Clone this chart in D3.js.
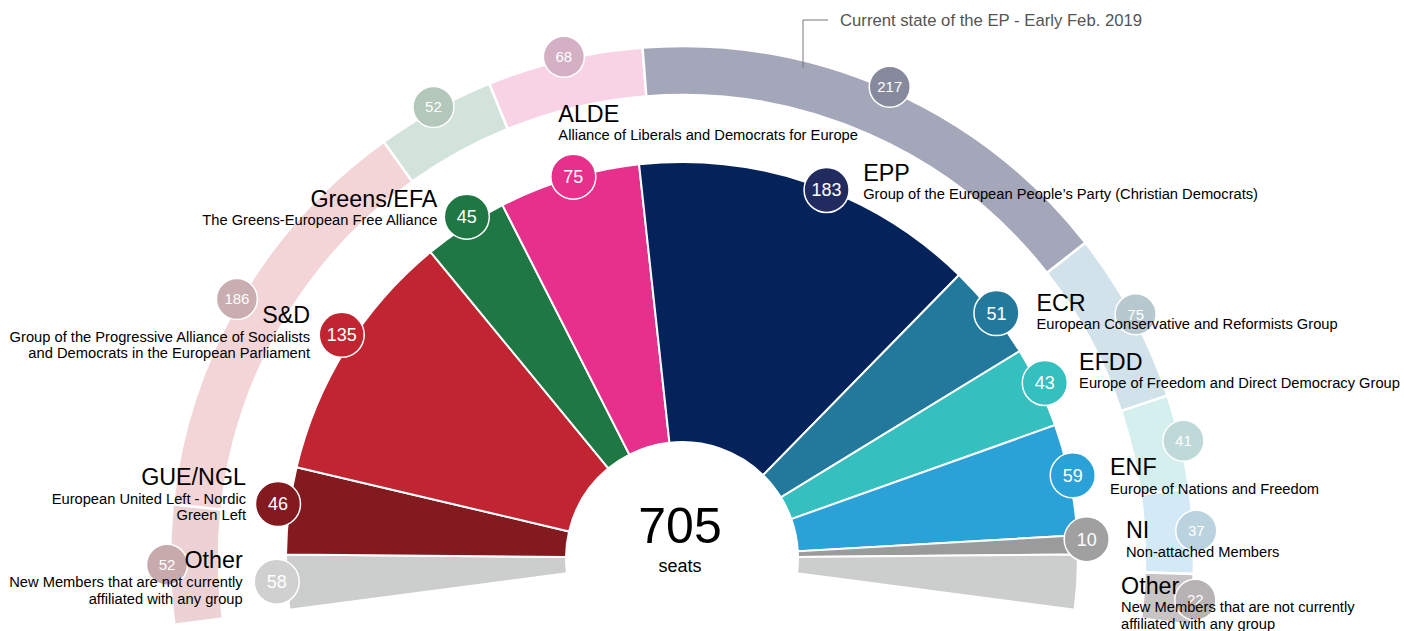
<!DOCTYPE html>
<html>
<head>
<meta charset="utf-8">
<script src="https://cdn.jsdelivr.net/npm/d3@7"></script>
<style>
  body { margin: 0; background: #fff; }
  svg { display: block; font-family: Arial, "Liberation Sans", Helvetica, sans-serif; }
</style>
</head>
<body>
<svg id="chart" width="1404" height="631"></svg>
<script>
// projected seats (inner half donut) and current seats (outer ring)
const groups = ['GUE/NGL', 'S&D', 'Greens/EFA', 'ALDE', 'EPP', 'ECR', 'EFDD', 'ENF', 'NI'];
const projectedSeats = [46, 135, 45, 75, 183, 51, 43, 59, 10];
const currentSeats = [52, 186, 52, 68, 217, 75, 41, 37, 22];
const otherSeats = 58;
const totalSeats = 705;
const descriptions = [
  ['European United Left - Nordic', 'Green Left'],
  ['Group of the Progressive Alliance of Socialists', 'and Democrats in the European Parliament'],
  ['The Greens-European Free Alliance'],
  ['Alliance of Liberals and Democrats for Europe'],
  ['Group of the European People\u2019s Party (Christian Democrats)'],
  ['European Conservative and Reformists Group'],
  ['Europe of Freedom and Direct Democracy Group'],
  ['Europe of Nations and Freedom'],
  ['Non-attached Members']
];
const otherLabel = 'Other';
const otherDesc = ['New Members that are not currently', 'affiliated with any group'];
const ringTitle = 'Current state of the EP - Early Feb. 2019';

const mainColors = ['#831a1f', '#c12532', '#1f7843', '#e72f8c', '#04235b', '#22799b', '#35bfbe', '#2aa1d7', '#9b9b9b'];
const badgeColors = ['#831a1f', '#c12532', '#1f7843', '#e72f8c', '#222b5f', '#22799b', '#35bfbe', '#2aa1d7', '#a0a0a0'];
const otherColor = '#cccdcd', otherBadge = '#d0d0d0';
const ringColors = ['#ecd2d5', '#f3d4d7', '#d1e3da', '#f8d3e6', '#a4a7b9', '#d2e2ea', '#d5efef', '#d3e9f5', '#c8c4c5'];
const ringBadges = ['#c8aaad', '#c9adb0', '#b4c7bb', '#d3b0c3', '#878a9c', '#b8c8cf', '#bfd9d9', '#bbd3df', '#b7b3b4'];

const cx = 682, cy = 558;
const overhang = 7.5 * Math.PI / 180;
const rad = Math.PI / 180;
const svg = d3.select('#chart');
const g = svg.append('g');

const polar = (a, r) => [cx + r * Math.sin(a), cy - r * Math.cos(a)];
const mid = d => (d.startAngle + d.endAngle) / 2;

// inner items: Other split half on each end
const inner = [{ name: otherLabel, seats: otherSeats / 2, color: otherColor, badge: otherBadge, desc: otherDesc, shown: otherSeats }]
  .concat(groups.map((n, i) => ({ name: n, seats: projectedSeats[i], color: mainColors[i], badge: badgeColors[i], desc: descriptions[i], shown: projectedSeats[i] })))
  .concat([{ name: otherLabel, seats: otherSeats / 2, color: otherColor, badge: null, desc: otherDesc, shown: null }]);

const pie = d3.pie().sort(null).value(d => d.seats)
  .startAngle(-Math.PI / 2 - overhang).endAngle(Math.PI / 2 + overhang);

const outer = groups.map((n, i) => ({ name: n, seats: currentSeats[i], color: ringColors[i], badge: ringBadges[i] }));

// outer ring
const ringArc = d3.arc().innerRadius(463).outerRadius(512);
const ringData = pie(outer);
g.append('g').selectAll('path').data(ringData).join('path')
  .attr('transform', `translate(${cx},${cy})`)
  .attr('d', ringArc).attr('fill', d => d.data.color)
  .attr('stroke', '#fff').attr('stroke-width', 2.5);

const ringBadge = g.append('g').selectAll('g').data(ringData).join('g')
  .attr('transform', d => `translate(${polar(mid(d), 515)})`);
ringBadge.append('circle').attr('r', 20.5).attr('fill', d => d.data.badge)
  .attr('stroke', '#fff').attr('stroke-width', 1.5);
ringBadge.append('text').attr('text-anchor', 'middle').attr('dy', '0.36em')
  .attr('fill', '#fff').attr('font-size', '15px').text(d => d.data.seats);

// ring annotation
g.append('path').attr('d', 'M803,68V20H828').attr('fill', 'none').attr('stroke', '#777').attr('stroke-width', 1);
g.append('text').attr('x', 840).attr('y', 25.5).attr('font-size', '16.7px').attr('fill', '#555').text(ringTitle);

// main half donut
const mainArc = d3.arc().innerRadius(116).outerRadius(396);
const mainData = pie(inner);
g.append('g').selectAll('path').data(mainData).join('path')
  .attr('transform', `translate(${cx},${cy})`)
  .attr('d', mainArc).attr('fill', d => d.data.color)
  .attr('stroke', '#fff').attr('stroke-width', 2);

// badge placement: angle nudge (deg) and radius, per slice
const badgeNudge = [[0.14, 406], [0.73, 407.6], [1.34, 406.9], [0.96, 403.5], [0.69, 396.5], [2.36, 395.4],
  [0.63, 398.6], [-0.2, 402.8], [-0.5, 399.4], [-0.75, 405.1], [0, 402]];
const badgePos = (d, i) => polar(mid(d) + badgeNudge[i][0] * rad, badgeNudge[i][1]);

const badge = g.append('g').selectAll('g').data(mainData).join('g')
  .filter(d => d.data.badge)
  .attr('transform', (d, i) => `translate(${badgePos(d, d.index)})`);
badge.append('circle').attr('r', 22.5).attr('fill', d => d.data.badge)
  .attr('stroke', '#fff').attr('stroke-width', 1.5);
badge.append('text').attr('text-anchor', 'middle').attr('dy', '0.36em')
  .attr('fill', '#fff').attr('font-size', '18px').text(d => d.data.shown);

// labels, offset from badge position
const labelOffsets = [[-34, -13.4], [-32, -19], [-31.7, -11.7], [-29.4, -10], [-15, -55], [36.6, -9.3],
  [40, -2.3], [34.3, -13.3], [37.3, 0], [39.3, -1], [37.8, 11.5]];
const labels = g.append('g').selectAll('text').data(mainData).join('text')
  .attr('text-anchor', (d, i) => i < 4 ? 'end' : 'start')
  .attr('transform', (d, i) => {
    const [x, y] = badgePos(d, i);
    return `translate(${x + labelOffsets[i][0]},${y + labelOffsets[i][1]})`;
  })
  .attr('fill', '#000');
labels.append('tspan').attr('x', 0).attr('y', 0).attr('font-size', '23.3px').text(d => d.data.name);
labels.each(function (d) {
  d.data.desc.forEach((line, j) => {
    d3.select(this).append('tspan').attr('x', 0).attr('y', 18.5 + j * 16.7)
      .attr('font-size', '14.7px').text(line);
  });
});

// centre total
g.append('text').attr('x', cx - 2).attr('y', 543).attr('text-anchor', 'middle')
  .attr('font-size', '50px').text(totalSeats);
g.append('text').attr('x', cx - 2).attr('y', 572).attr('text-anchor', 'middle')
  .attr('font-size', '18px').text('seats');
</script>
</body>
</html>
